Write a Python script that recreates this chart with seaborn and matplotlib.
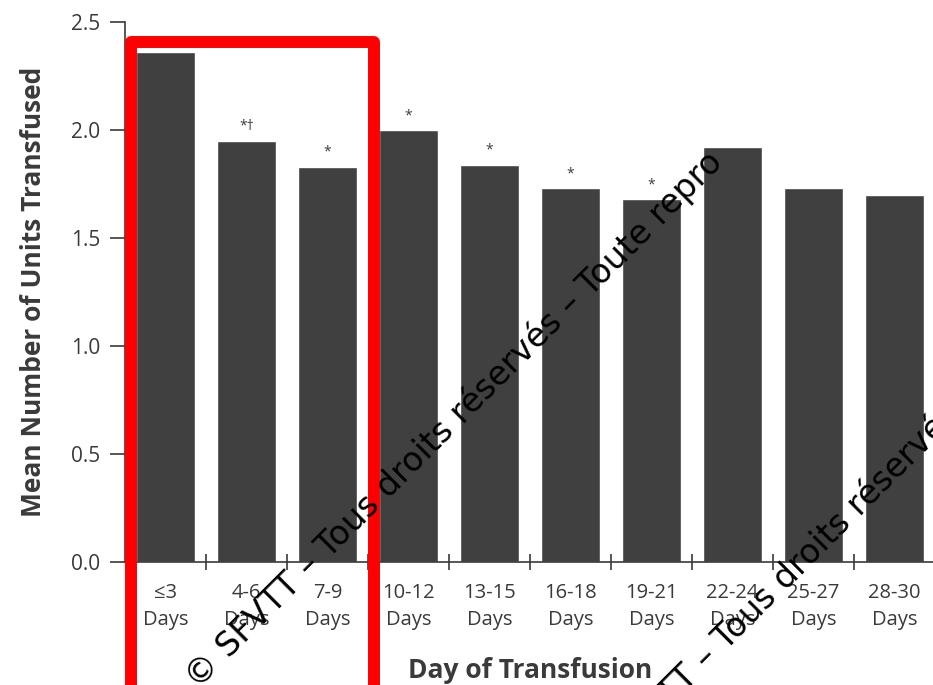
import pandas as pd
import seaborn as sns
import matplotlib.pyplot as plt
from matplotlib.lines import Line2D

# ================== data ==================
categories = ["≤3\nDays", "4-6\nDays", "7-9\nDays", "10-12\nDays", "13-15\nDays",
              "16-18\nDays", "19-21\nDays", "22-24\nDays", "25-27\nDays", "28-30\nDays"]
mean_units = [2.36, 1.95, 1.83, 2.00, 1.84, 1.73, 1.68, 1.92, 1.73, 1.70]
marks = ["", "*†", "*", "*", "*", "*", "*", "", "", ""]

df = pd.DataFrame({"day": categories, "units": mean_units})

sns.set_theme(style="ticks")
plt.rcParams["font.family"] = ["Open Sans", "DejaVu Sans"]
txt = "#3a3a3a"

fig = plt.figure(figsize=(9.33, 6.85), dpi=100)
ax = fig.add_axes([125 / 933, 1 - 562 / 685, 810 / 933, 540 / 685])

sns.barplot(data=df, x="day", y="units", color="#404040", saturation=1,
            width=0.74, errorbar=None, ax=ax)

for i, (v, m) in enumerate(zip(mean_units, marks)):
    if m:
        ax.annotate(m, (i, v), xytext=(0, 5), textcoords="offset points",
                    ha="center", va="bottom", fontsize=10, color=txt)

ax.set_xlim(-0.5, len(categories) - 0.5)
ax.set_ylim(0, 2.5)
ax.set_yticks([0, 0.5, 1.0, 1.5, 2.0, 2.5])
ax.set_yticklabels(["0.0", "0.5", "1.0", "1.5", "2.0", "2.5"])
ax.tick_params(axis="y", length=11, width=1.2, color=txt, labelsize=15,
               labelcolor=txt, pad=7)
ax.tick_params(axis="x", which="major", length=0, labelsize=14.5,
               labelcolor=txt, pad=15)
ax.set_xticks([i + 0.5 for i in range(len(categories))], minor=True)
ax.tick_params(axis="x", which="minor", direction="inout", length=12,
               width=1.2, color=txt)
for lab in ax.get_xticklabels():
    lab.set_linespacing(1.45)

ax.set_xlabel("Day of Transfusion", fontsize=19, fontweight="bold",
              color=txt, labelpad=20)
ax.set_ylabel("Mean Number of Units Transfused", fontsize=19,
              fontweight="bold", color=txt, labelpad=17)
sns.despine(ax=ax, right=True, top=True)
for s in ["left", "bottom"]:
    ax.spines[s].set_color(txt)
    ax.spines[s].set_linewidth(1.2)

# ================== red box ==================
W, H = 933, 685
xs = [131, 131, 374, 374]
ys = [700, 42, 42, 700]
box = Line2D([x / W for x in xs], [1 - y / H for y in ys], color="#ff0000",
             linewidth=8.6, solid_joinstyle="round", transform=fig.transFigure)
fig.add_artist(box)

# ================== watermark ==================
wm = "© SFVTT – Tous droits réservés – Toute repro"
for x0, y0 in [(198, 690), (595, 782)]:
    fig.text(x0 / W, 1 - y0 / H, wm, rotation=45, rotation_mode="anchor",
             ha="left", va="baseline", fontsize=24, color="black",
             family="DejaVu Sans", zorder=10)

fig.savefig("out.png", dpi=100)
